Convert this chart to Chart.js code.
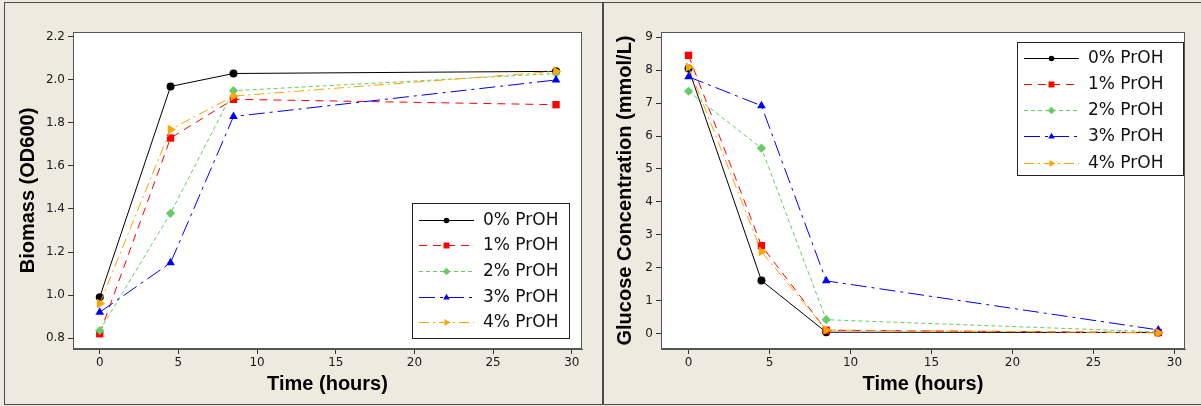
<!DOCTYPE html>
<html>
<head>
<meta charset="utf-8">
<script src="https://cdn.jsdelivr.net/npm/chart.js@4.4.1/dist/chart.umd.min.js"></script>
<style>
html, body { margin: 0; padding: 0; background: #eeeae0; }
body { width: 1201px; height: 406px; position: relative; overflow: hidden; }
.panel { position: absolute; top: 2px; height: 401px; border: 1px solid #4a4a4a; }
.wrap { position: absolute; top: 0; height: 406px; }
</style>
</head>
<body>
<div class="panel" style="left:4px; width:597px;"></div>
<div class="panel" style="left:603px; width:600px;"></div>
<div class="wrap" style="left:0; width:601px;"><canvas id="biomassChart"></canvas></div>
<div class="wrap" style="left:603px; width:598px;"><canvas id="glucoseChart"></canvas></div>

<script>
// --- data ---
const timeHours = [0, 4.5, 8.5, 29];
const seriesLabels = ['0% PrOH', '1% PrOH', '2% PrOH', '3% PrOH', '4% PrOH'];

const biomass0 = [0.99, 1.97, 2.03, 2.04];
const biomass1 = [0.82, 1.73, 1.91, 1.885];
const biomass2 = [0.835, 1.38, 1.95, 2.03];
const biomass3 = [0.92, 1.15, 1.83, 2.0];
const biomass4 = [0.96, 1.77, 1.925, 2.04];

const glucose0 = [8.05, 1.61, 0.04, 0.03];
const glucose1 = [8.45, 2.67, 0.1, 0.03];
const glucose2 = [7.36, 5.63, 0.42, 0.05];
const glucose3 = [7.8, 6.92, 1.6, 0.11];
const glucose4 = [8.1, 2.49, 0.11, 0.02];

const timeTicks = [0, 5, 10, 15, 20, 25, 30];
const biomassTicks = [0.8, 1.0, 1.2, 1.4, 1.6, 1.8, 2.0, 2.2];
const glucoseTicks = [0, 1, 2, 3, 4, 5, 6, 7, 8, 9];

// --- look of each series (line dash, marker) ---
const seriesStyle = [
    { color: '#000000', dash: [],            point: 'circle',   r: 4,   lr: 2.8, rot: 0 },
    { color: '#ff0000', dash: [8, 6],        point: 'rect',     r: 5.2, lr: 4.2, rot: 0 },
    { color: '#66cc66', dash: [4, 3],        point: 'rectRot',  r: 4.6, lr: 3.8, rot: 0 },
    { color: '#0000ff', dash: [16, 5, 3, 5], point: 'triangle', r: 5,   lr: 3.8, rot: 0 },
    { color: '#ffa500', dash: [10, 4, 2, 4], point: 'triangle', r: 5.5, lr: 4,   rot: 90 }
];

const tickFont = { family: "'DejaVu Sans', sans-serif", size: 12 };
const titleFont = { family: "'Liberation Sans', Arial, sans-serif", size: 20, weight: 'bold' };

// white plot area + frame
const plotFrame = {
    id: 'plotFrame',
    beforeDraw(chart) {
        const { ctx, chartArea: a } = chart;
        ctx.save();
        ctx.fillStyle = '#ffffff';
        ctx.fillRect(a.left, a.top, a.right - a.left, a.bottom - a.top);
        ctx.restore();
    },
    beforeDatasetsDraw(chart) {
        const { ctx, chartArea: a } = chart;
        ctx.save();
        ctx.strokeStyle = '#555555';
        ctx.lineWidth = 1;
        ctx.strokeRect(Math.round(a.left) + 0.5, Math.round(a.top) + 0.5,
            Math.round(a.right - a.left) - 1, Math.round(a.bottom - a.top) - 1);
        ctx.restore();
    }
};

// legend box drawn inside the plot, line sample + marker like the original
const insideLegend = {
    id: 'insideLegend',
    afterDatasetsDraw(chart, args, o) {
        const { ctx, chartArea: a } = chart;
        const x0 = Math.round(a.right - o.insetX - o.width);
        const y0 = o.fromBottom ? Math.round(a.bottom - o.insetY - o.height) : Math.round(a.top + o.insetY);
        ctx.save();
        ctx.fillStyle = '#ffffff';
        ctx.fillRect(x0, y0, o.width, o.height);
        ctx.strokeStyle = '#222222';
        ctx.lineWidth = 1;
        ctx.strokeRect(x0 + 0.5, y0 + 0.5, o.width, o.height);
        seriesLabels.forEach((label, i) => {
            const st = seriesStyle[i];
            const y = Math.round(y0 + o.firstRow + i * o.rowStep) + 0.5;
            ctx.strokeStyle = st.color;
            ctx.lineWidth = 1;
            ctx.setLineDash(st.dash);
            ctx.beginPath();
            ctx.moveTo(x0 + 7, y);
            ctx.lineTo(x0 + 62, y);
            ctx.stroke();
            ctx.setLineDash([]);
            ctx.fillStyle = st.color;
            Chart.helpers.drawPoint(ctx, { pointStyle: st.point, radius: st.lr, rotation: st.rot, borderWidth: 0 }, x0 + 34.5, y);
            ctx.fillStyle = '#111111';
            ctx.font = "17px 'DejaVu Sans', sans-serif";
            ctx.textBaseline = 'middle';
            ctx.fillText(label, x0 + 71, y);
        });
        ctx.restore();
    }
};

function buildDatasets(seriesValues) {
    return seriesValues.map((vals, i) => {
        const st = seriesStyle[i];
        return {
            label: seriesLabels[i],
            data: vals.map((v, k) => ({ x: timeHours[k], y: v })),
            borderColor: st.color,
            backgroundColor: st.color,
            borderWidth: 1,
            borderDash: st.dash,
            pointStyle: st.point,
            pointRadius: st.r,
            pointRotation: st.rot,
            pointBackgroundColor: st.color,
            pointBorderWidth: 0,
            tension: 0,
            fill: false,
            order: -i // later series on top, like the original
        };
    });
}

function makeChart(id, seriesValues, cfg) {
    new Chart(document.getElementById(id), {
        type: 'line',
        data: { datasets: buildDatasets(seriesValues) },
        options: {
            responsive: true,
            maintainAspectRatio: false,
            animation: false,
            devicePixelRatio: 1,
            layout: { padding: { left: 0, top: 32, right: cfg.padRight, bottom: 0 } },
            plugins: {
                legend: { display: false },
                tooltip: { enabled: false },
                insideLegend: cfg.legend
            },
            scales: {
                x: {
                    type: 'linear',
                    min: -1.7,
                    max: 30.65,
                    afterBuildTicks: s => { s.ticks = timeTicks.map(v => ({ value: v })); },
                    afterFit: s => { s.height = 57; },
                    grid: { drawOnChartArea: false, tickLength: 5, tickColor: '#333333' },
                    border: { color: '#555555' },
                    ticks: { font: tickFont, color: '#1a1a1a', padding: 2, maxRotation: 0 },
                    title: { display: true, text: 'Time (hours)', font: titleFont, color: '#000000', padding: { top: 0, bottom: 10 } }
                },
                y: {
                    type: 'linear',
                    min: cfg.yMin,
                    max: cfg.yMax,
                    afterBuildTicks: s => { s.ticks = cfg.yTicks.map(v => ({ value: v })); },
                    afterFit: s => { s.width = cfg.yWidth; },
                    grid: { drawOnChartArea: false, tickLength: 5, tickColor: '#333333' },
                    border: { color: '#555555' },
                    ticks: { font: tickFont, color: '#1a1a1a', padding: 3, callback: cfg.tickFmt },
                    title: { display: true, text: cfg.yTitle, font: titleFont, color: '#000000', padding: { top: cfg.yTitlePad, bottom: 0 } }
                }
            }
        },
        plugins: [plotFrame, insideLegend]
    });
}

makeChart('biomassChart', [biomass0, biomass1, biomass2, biomass3, biomass4], {
    yMin: 0.749, yMax: 2.223, yTicks: biomassTicks, yWidth: 73, padRight: 19,
    yTitle: 'Biomass (OD600)', yTitlePad: 16,
    tickFmt: v => v.toFixed(1),
    legend: { fromBottom: true, insetX: 13, insetY: 11, width: 157, height: 135, firstRow: 16.5, rowStep: 25.7 }
});

makeChart('glucoseChart', [glucose0, glucose1, glucose2, glucose3, glucose4], {
    yMin: -0.47, yMax: 9.16, yTicks: glucoseTicks, yWidth: 58, padRight: 16,
    yTitle: 'Glucose Concentration (mmol/L)', yTitlePad: 10.5,
    tickFmt: v => String(v),
    legend: { fromBottom: false, insetX: 2, insetY: 10, width: 166, height: 133, firstRow: 15.5, rowStep: 26.3 }
});
</script>
</body>
</html>
